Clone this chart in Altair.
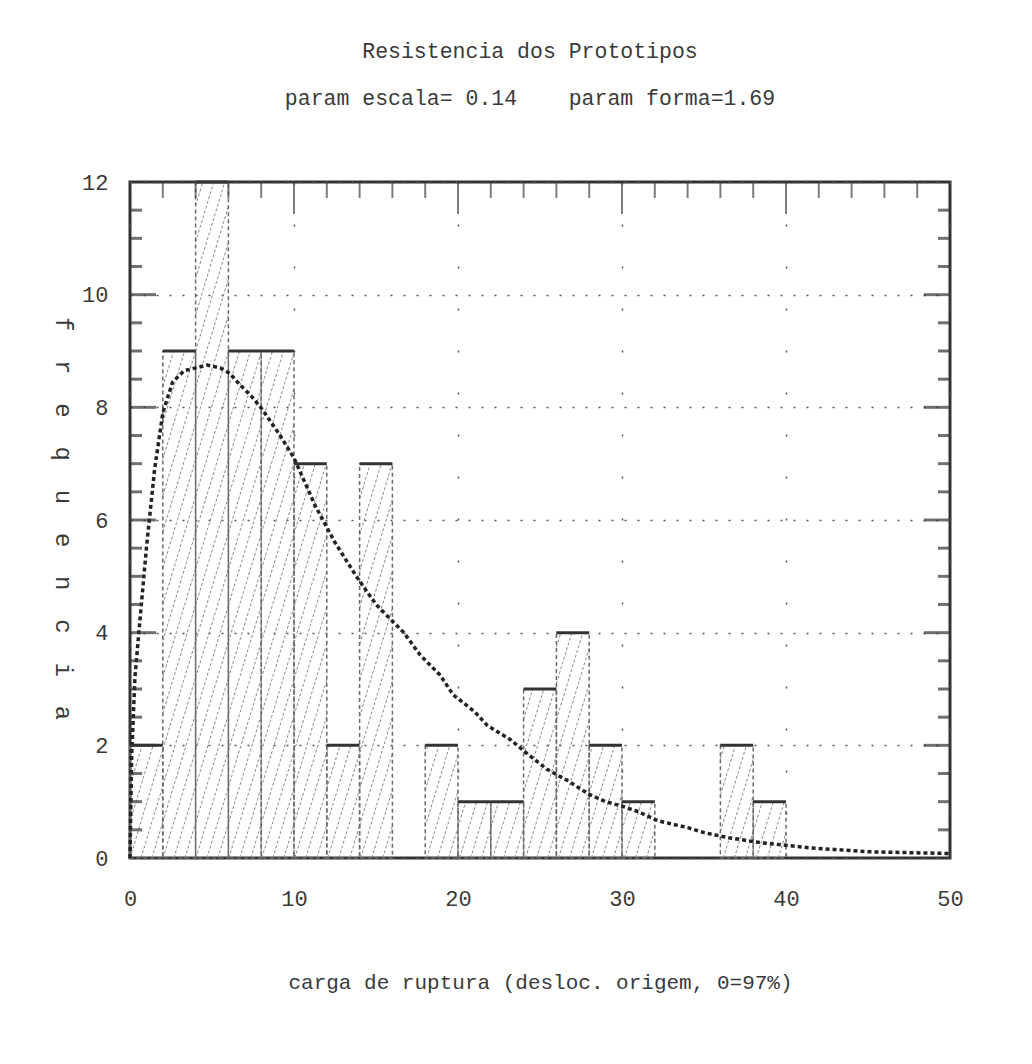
import altair as alt
import pandas as pd
import numpy as np

# ---------------- data ----------------
bin_start = [0, 2, 4, 6, 8, 10, 12, 14, 16, 18, 20, 22, 24, 26, 28, 30, 32, 34, 36, 38]
bin_width = 2
counts = [2, 9, 12, 9, 9, 7, 2, 7, 0, 2, 1, 1, 3, 4, 2, 1, 0, 0, 2, 1]

curve_x = [0, 0.1, 0.3, 0.6, 1.0, 1.5, 2.0, 2.6, 3.3, 4.0, 4.7, 5.5, 6.1, 6.7, 7.4,
           8.1, 9.15, 10.0, 11.3, 12.5, 13.8, 15.0, 16.7, 17.7, 18.9, 19.7, 21.0,
           21.8, 23.2, 24.1, 25.4, 26.7, 28.0, 29.0, 30.0, 31.0, 32.2, 34.0, 35.0,
           36.5, 38.5, 41.5, 45.0, 50.0]
curve_y = [0, 1.8, 3.2, 4.2, 5.5, 6.9, 7.9, 8.45, 8.65, 8.7, 8.75, 8.7, 8.6, 8.4, 8.2,
           7.95, 7.5, 7.1, 6.25, 5.6, 5.0, 4.5, 4.0, 3.6, 3.25, 2.9, 2.6,
           2.35, 2.1, 1.88, 1.58, 1.37, 1.13, 1.0, 0.92, 0.82, 0.66, 0.54, 0.45,
           0.36, 0.27, 0.18, 0.11, 0.08]

x_labels = [0, 10, 20, 30, 40, 50]
y_labels = [0, 2, 4, 6, 8, 10, 12]
y_major_ticks = [2, 4, 6, 8, 10]
y_minor_ticks = [0.5, 1, 1.5, 2.5, 3, 3.5, 4.5, 5, 5.5, 6.5, 7, 7.5, 8.5, 9, 9.5,
                 10.5, 11, 11.5]
x_top_minor = [2, 4, 6, 8, 12, 14, 16, 18, 22, 24, 26, 28, 32, 34, 36, 38, 42, 44, 46, 48]
x_top_major = [10, 20, 30, 40]

NB = "\u00a0"
title_text = "Resistencia dos Prototipos"
subtitle_text = "param escala= 0.14" + NB * 4 + "param forma=1.69"
x_title = "carga de ruptura (desloc. origem, 0=97%)"
y_title = (NB * 2).join(list("frequencia"))

# ---------------- tables ----------------
bars = pd.DataFrame({"x0": bin_start, "count": counts})
bars["x1"] = bars["x0"] + bin_width
bars["zero"] = 0
bars = bars[bars["count"] > 0]

# diagonal hatching clipped to each bar (style only, derived from the bars)
HS, HA = 0.67, 1.04
rows = []
for x0, h in zip(bin_start, counts):
    if h <= 0:
        continue
    x1 = x0 + bin_width
    kmin = int(np.floor((x0 - HA * h) / HS)) - 1
    kmax = int(np.ceil(x1 / HS)) + 1
    for k in range(kmin, kmax + 1):
        c = k * HS
        ylo = max(0.0, (x0 - c) / HA)
        yhi = min(float(h), (x1 - c) / HA)
        if yhi - ylo > 1e-6:
            rows.append({"hx": c + HA * ylo, "hy": ylo, "hx2": c + HA * yhi, "hy2": yhi})
hatch = pd.DataFrame(rows)

curve = pd.DataFrame({"cx": curve_x, "cy": curve_y})
ymaj = pd.DataFrame({"v": y_major_ticks})
ymin = pd.DataFrame({"v": y_minor_ticks})
xmaj = pd.DataFrame({"v": x_top_major})
xmin = pd.DataFrame({"v": x_top_minor})

FONT = "Liberation Mono"
INK = "#3a3a3a"
W, H = 820, 676

xs = alt.Scale(domain=[0, 50], nice=False, zero=False)
ys = alt.Scale(domain=[0, 12], nice=False)

x_axis = alt.Axis(values=x_labels, title=x_title, grid=True, gridDash=[2, 40],
                  gridColor="#555", gridWidth=1.5, ticks=False, domain=False,
                  labelFlush=False, labelPadding=30, labelFontSize=22,
                  labelFont=FONT, labelColor=INK,
                  titleFont=FONT, titleFontSize=21, titleFontWeight="normal",
                  titleColor=INK, titleY=124, titleBaseline="middle")
y_axis = alt.Axis(values=y_labels, title=y_title, grid=True, gridDash=[2, 11],
                  gridColor="#555", gridWidth=1.5, ticks=False, domain=False,
                  labelFlush=False, labelPadding=22, labelFontSize=22,
                  labelFont=FONT, labelColor=INK,
                  titleFont=FONT, titleFontSize=24, titleFontWeight="normal",
                  titleColor=INK, titleAngle=90, titleX=-68, titleY=336,
                  titleAlign="center", titleBaseline="middle")


def X(field):
    return alt.X(field, type="quantitative", scale=xs, axis=x_axis)


def Y(field):
    return alt.Y(field, type="quantitative", scale=ys, axis=y_axis)


hatch_layer = alt.Chart(hatch).mark_rule(color="#8a8a8a", strokeWidth=1,
                                         strokeDash=[3, 2]).encode(
    x=X("hx"), y=Y("hy"), x2="hx2:Q", y2="hy2:Q")

edge_layer = alt.Chart(bars).mark_rect(fillOpacity=0, stroke="#6a6a6a",
                                       strokeWidth=1.5, strokeDash=[4, 3]).encode(
    x=X("x0"), x2="x1:Q", y=Y("count"), y2="zero:Q")

top_layer = alt.Chart(bars).mark_rule(color="#333", strokeWidth=3).encode(
    x=X("x0"), x2="x1:Q", y=Y("count"))

curve_layer = alt.Chart(curve).mark_line(color="#222", strokeWidth=3.5,
                                         strokeDash=[4, 3]).encode(
    x=X("cx"), y=Y("cy"))


def ytick(df, xpos, size):
    return alt.Chart(df).mark_tick(orient="horizontal", color="#333", thickness=3,
                                   size=size).encode(
        y=Y("v"), x=alt.value(xpos))


def xtick(df, size):
    return alt.Chart(df).mark_tick(orient="vertical", color="#444", thickness=2,
                                   size=size).encode(
        x=X("v"), y=alt.value(size / 2))


ticks = [
    ytick(ymaj, 13, 26), ytick(ymin, 6, 12),
    ytick(ymaj, W - 13, 26), ytick(ymin, W - 6, 12),
    xtick(xmaj, 32), xtick(xmin, 16),
]

chart = alt.layer(hatch_layer, edge_layer, top_layer, curve_layer, *ticks).properties(
    width=W, height=H,
    title=alt.TitleParams(text=title_text, subtitle=subtitle_text, font=FONT,
                          fontSize=21.5, fontWeight="normal", color=INK,
                          subtitleFont=FONT, subtitleFontSize=21.5, subtitleColor=INK,
                          subtitlePadding=25, anchor="middle", offset=62, dx=-10),
    autosize=alt.AutoSizeParams(type="none"),
    padding={"left": 122, "top": 174, "right": 60, "bottom": 190},
    background="white",
).configure_view(stroke="#333", strokeWidth=3)

chart.save("out.html", embed_options={"renderer": "svg", "actions": False})
